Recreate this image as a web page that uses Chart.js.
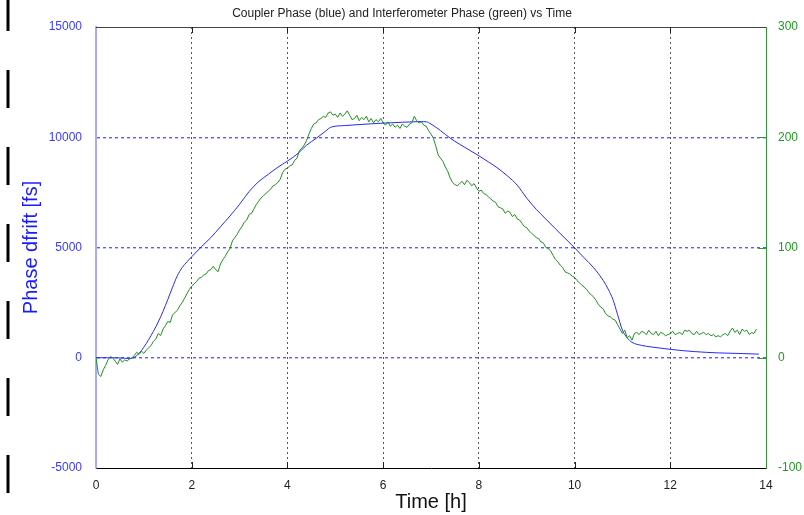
<!DOCTYPE html>
<html>
<head>
<meta charset="utf-8">
<script src="https://cdn.jsdelivr.net/npm/chart.js@4/dist/chart.umd.min.js"></script>
<style>
  html, body { margin: 0; padding: 0; background: #fff; }
  #wrap { width: 804px; height: 515px; }
</style>
</head>
<body>
<div id="wrap"><canvas id="chart" width="804" height="515"></canvas></div>
<script>
// coupler phase (blue), fs
const blueTime = [0, 0.3, 0.6, 0.7, 0.8, 0.9, 1.0, 1.1, 1.2, 1.3, 1.4, 1.5, 1.6, 1.7, 1.8, 1.9,
  2.0, 2.2, 2.4, 2.6, 2.8, 3.0, 3.2, 3.4, 3.6, 3.8, 4.0, 4.2, 4.4, 4.6, 4.8, 4.9, 5.2, 5.6,
  6.0, 6.4, 6.8, 6.9, 7.0, 7.2, 7.4, 7.6, 7.8, 8.0, 8.2, 8.4, 8.6, 8.8, 9.0, 9.2, 9.4, 9.6, 9.8,
  10.0, 10.2, 10.4, 10.6, 10.7, 10.8, 10.9, 11.0, 11.1, 11.2, 11.4, 11.6, 12.0, 12.5, 13.0, 13.5, 13.85];
const blueFs = [0, 0, -20, -45, 20, 200, 480, 820, 1200, 1620, 2100, 2640, 3200, 3720, 4090, 4350,
  4580, 5030, 5450, 5940, 6430, 6960, 7540, 7990, 8320, 8640, 8920, 9230, 9640, 9950, 10280, 10450, 10530, 10590,
  10640, 10680, 10710, 10700, 10600, 10300, 9960, 9680, 9420, 9160, 8880, 8590, 8240, 7830, 7240, 6730, 6290, 5850, 5420,
  4990, 4530, 4080, 3500, 3120, 2650, 1950, 1250, 900, 700, 560, 490, 380, 280, 220, 190, 165];

// interferometer phase (green), one reading every 0.05 h from t = 0
const greenStep = 0.05;
const greenVals = [
  0, -15, -17, -11, -7, -2, 1, 0, -3, -6, -1, -4, -2, -3, -1, 0, 2, 5, 3, 6,
  4, 7, 9, 11, 15, 17, 22, 20, 26, 29, 33, 32, 39, 41, 43, 47, 50, 54, 58, 62,
  65, 67, 69, 72, 73, 75, 76, 79, 80, 83, 80, 78, 85, 89, 92, 96, 99, 106, 109, 112,
  116, 119, 123, 125, 130, 131, 135, 139, 142, 145, 147, 149, 151, 153, 156, 157, 159, 162, 168, 171,
  172, 174, 175, 179, 181, 188, 190, 193, 197, 203, 208, 212, 213, 216, 217, 219, 218, 222, 223, 220,
  221, 218, 222, 219, 221, 224, 220, 216, 217, 220, 215, 218, 216, 219, 214, 217, 213, 216, 214, 217,
  213, 211, 214, 210, 212, 209, 211, 208, 212, 210, 209, 212, 213, 219, 215, 213, 214, 211, 210, 206,
  203, 199, 192, 184, 181, 178, 173, 169, 163, 159, 157, 156, 158, 160, 157, 161, 159, 156, 158, 154,
  151, 152, 149, 148, 146, 144, 142, 141, 137, 136, 135, 131, 133, 132, 128, 130, 126, 125, 122, 119,
  118, 115, 113, 111, 109, 108, 105, 104, 100, 99, 97, 93, 89, 87, 84, 82, 78, 77, 76, 74,
  73, 70, 68, 66, 64, 62, 59, 57, 55, 52, 48, 46, 44, 40, 38, 37, 35, 34, 30, 26,
  22, 25, 18, 20, 16, 22, 23, 21, 24, 23, 21, 25, 22, 21, 24, 20, 23, 22, 20, 21,
  22, 24, 21, 22, 23, 21, 25, 24, 25, 22, 21, 24, 21, 22, 23, 21, 22, 20, 21, 19,
  20, 19, 21, 22, 20, 24, 27, 23, 25, 21, 26, 24, 25, 21, 23, 22, 26
];

const xTicks = [0, 2, 4, 6, 8, 10, 12, 14];
const yLeftTicks = [-5000, 0, 5000, 10000, 15000];
const yRightTicks = [-100, 0, 100, 200, 300];

const blueData = blueTime.map((t, i) => ({ x: t, y: blueFs[i] }));
const greenData = greenVals.map((v, i) => ({ x: +(i * greenStep).toFixed(2), y: v }));

Chart.defaults.font.family = "'Liberation Sans', Arial, sans-serif";
Chart.defaults.font.size = 12;

const plain = v => String(v);

// frame bits the library has no option for: top border, inward ticks, left-edge marks
const framePlugin = {
  id: "frame",
  afterDraw(chart) {
    const { ctx, chartArea: a, scales } = chart;
    ctx.save();
    ctx.lineWidth = 1;
    ctx.strokeStyle = "#444";
    ctx.beginPath();
    ctx.moveTo(a.left, a.top + 0.5);
    ctx.lineTo(a.right, a.top + 0.5);
    ctx.stroke();

    ctx.strokeStyle = "#222";
    ctx.beginPath();
    xTicks.slice(1, -1).forEach(v => {
      const x = Math.round(scales.x.getPixelForValue(v)) + 0.5;
      ctx.moveTo(x, a.bottom); ctx.lineTo(x, a.bottom - 6);
      ctx.moveTo(x, a.top); ctx.lineTo(x, a.top + 6);
    });
    ctx.stroke();

    ctx.strokeStyle = "#339933";
    ctx.beginPath();
    yRightTicks.slice(1, -1).forEach(v => {
      const y = Math.round(scales.y2.getPixelForValue(v)) + 0.5;
      ctx.moveTo(a.right, y); ctx.lineTo(a.right - 8, y);
    });
    ctx.stroke();

    ctx.strokeStyle = "#000";
    ctx.lineWidth = 3;
    ctx.setLineDash([38, 39]);
    ctx.beginPath();
    ctx.moveTo(8, -7);
    ctx.lineTo(8, 515);
    ctx.stroke();
    ctx.restore();
  }
};

new Chart(document.getElementById("chart"), {
  type: "line",
  data: {
    datasets: [
      {
        label: "Coupler Phase",
        data: blueData,
        yAxisID: "y",
        borderColor: "#2828ff",
        borderWidth: 1,
        pointRadius: 0,
        cubicInterpolationMode: "monotone",
        order: 1,
      },
      {
        label: "Interferometer Phase",
        data: greenData,
        yAxisID: "y2",
        borderColor: "#1f8f1f",
        borderWidth: 1,
        pointRadius: 0,
        tension: 0,
        order: 0,
      },
    ],
  },
  options: {
    responsive: false,
    animation: false,
    events: [],
    layout: { padding: 0 },
    plugins: {
      legend: { display: false },
      tooltip: { enabled: false },
      title: {
        display: true,
        text: "Coupler Phase (blue) and Interferometer Phase (green) vs Time",
        color: "#222",
        font: { size: 12, weight: "normal" },
        padding: { top: 6, bottom: 6.6 },
      },
    },
    scales: {
      x: {
        type: "linear",
        position: "bottom",
        min: 0,
        max: 14,
        afterBuildTicks: s => { s.ticks = xTicks.map(v => ({ value: v })); },
        afterFit: s => { s.height = 47; },
        ticks: { color: "#222", padding: 10, maxRotation: 0, callback: plain },
        grid: {
          drawTicks: false,
          color: c => (c.tick && (c.tick.value === 0 || c.tick.value === 14)) ? "rgba(0,0,0,0)" : "#555",
        },
        border: { color: "#000", width: 1, dash: [2, 3] },
        title: {
          display: true,
          text: "Time [h]",
          color: "#111",
          font: { size: 20 },
          padding: { top: 0, bottom: 1 },
        },
      },
      y: {
        type: "linear",
        position: "left",
        min: -5000,
        max: 15000,
        afterBuildTicks: s => { s.ticks = yLeftTicks.map(v => ({ value: v })); },
        afterFit: s => { s.width = 96; },
        ticks: { color: "#3a3aff", padding: 14, callback: plain },
        grid: {
          drawTicks: false,
          lineWidth: 1.4,
          color: c => (c.tick && (c.tick.value === -5000 || c.tick.value === 15000)) ? "rgba(0,0,0,0)" : "#5a5aff",
        },
        border: { color: "#a8a8ff", width: 2, dash: [3, 3] },
        title: {
          display: true,
          text: "Phase dfrift [fs]",
          color: "#1a1aff",
          font: { size: 20 },
          padding: { top: 19, bottom: 0 },
        },
      },
      y2: {
        type: "linear",
        position: "right",
        min: -100,
        max: 300,
        afterBuildTicks: s => { s.ticks = yRightTicks.map(v => ({ value: v })); },
        afterFit: s => { s.width = 38; },
        ticks: { color: "#229922", padding: 12, callback: plain },
        grid: { drawOnChartArea: false, drawTicks: false },
        border: { color: "#339933", width: 1 },
      },
    },
  },
  plugins: [framePlugin],
});
</script>
</body>
</html>
